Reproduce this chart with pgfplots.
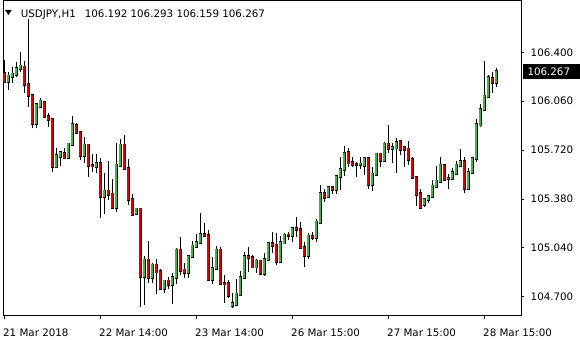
\documentclass[border=0pt]{standalone}
\usepackage{fontspec}
\setmainfont{DejaVu Sans}
\usepackage{pgfplots}
\usepackage{pgfplotstable}
\pgfplotsset{compat=1.18}
\definecolor{cgreen}{RGB}{60,185,60}
\definecolor{cred}{RGB}{228,0,0}
\newcommand{\lblfont}{\fontsize{10.3bp}{12bp}\selectfont}
\pgfplotstableread{
i o h l c
0 106.254 106.346 106.187 106.196
1 106.196 106.265 106.138 106.235
2 106.235 106.298 106.187 106.249
3 106.249 106.335 106.226 106.289
4 106.289 106.404 106.263 106.305
5 106.298 106.340 106.117 106.176
6 106.176 106.629 106.022 106.101
7 106.101 106.103 105.872 105.906
8 105.906 106.050 105.872 106.038
9 106.022 106.080 106.011 106.061
10 106.052 106.057 105.948 105.952
11 105.955 105.976 105.879 105.934
12 105.934 105.941 105.570 105.605
13 105.605 105.733 105.594 105.681
14 105.674 105.709 105.610 105.702
15 105.698 105.733 105.663 105.670
16 105.670 105.767 105.663 105.762
17 105.762 105.957 105.749 105.895
18 105.890 105.906 105.837 105.844
19 105.844 105.848 105.651 105.681
20 105.681 105.813 105.628 105.755
21 105.755 105.762 105.535 105.612
22 105.614 105.693 105.568 105.611
23 105.605 105.693 105.559 105.628
24 105.628 105.665 105.250 105.396
25 105.396 105.561 105.276 105.436
26 105.436 105.644 105.373 105.415
27 105.415 105.519 105.310 105.324
28 105.324 105.767 105.292 105.616
29 105.616 105.797 105.602 105.755
30 105.755 105.825 105.582 105.594
31 105.594 105.658 105.338 105.378
32 105.378 105.415 105.262 105.276
33 105.281 105.315 105.269 105.310
34 105.310 105.317 104.631 104.840
35 104.840 104.984 104.643 104.956
36 104.956 105.088 104.796 104.838
37 104.838 104.935 104.798 104.921
38 104.921 104.963 104.719 104.874
39 104.874 104.893 104.747 104.759
40 104.759 104.817 104.726 104.810
41 104.810 104.840 104.754 104.787
42 104.787 104.866 104.650 104.833
43 104.833 105.041 104.789 105.025
44 105.025 105.116 104.852 104.886
45 104.886 104.935 104.831 104.868
46 104.868 104.986 104.831 104.979
47 104.979 105.088 104.970 105.053
48 105.053 105.135 105.044 105.079
49 105.079 105.285 105.072 105.135
50 105.135 105.213 105.118 105.125
51 105.125 105.164 104.817 104.822
52 104.822 104.979 104.787 104.898
53 104.898 105.053 104.886 105.025
54 105.025 105.048 104.789 104.794
55 104.794 104.852 104.657 104.790
56 104.792 104.817 104.690 104.712
57 104.641 104.726 104.620 104.655
58 104.650 104.824 104.643 104.719
59 104.719 104.879 104.712 104.833
60 104.833 105.011 104.824 104.979
61 104.979 105.048 104.872 104.975
62 104.975 104.991 104.898 104.909
63 104.909 104.961 104.868 104.949
64 104.949 104.956 104.859 104.863
65 104.863 105.005 104.847 104.961
66 104.961 105.083 104.956 105.072
67 105.072 105.149 105.007 105.060
68 105.060 105.142 104.921 104.944
69 104.944 105.125 104.937 105.079
70 105.075 105.142 105.067 105.130
71 105.130 105.149 105.095 105.127
72 105.125 105.187 105.083 105.176
73 105.176 105.253 105.118 105.169
74 105.169 105.222 105.037 105.044
75 105.044 105.083 104.905 104.991
76 104.991 105.142 104.961 105.123
77 105.120 105.153 105.095 105.116
78 105.116 105.241 105.083 105.220
79 105.220 105.477 105.211 105.420
80 105.420 105.447 105.361 105.392
81 105.398 105.466 105.392 105.461
82 105.461 105.466 105.415 105.447
83 105.447 105.540 105.415 105.535
84 105.535 105.670 105.443 105.587
85 105.587 105.749 105.540 105.698
86 105.705 105.733 105.605 105.632
87 105.632 105.674 105.605 105.621
88 105.621 105.639 105.535 105.619
89 105.619 105.674 105.587 105.623
90 105.616 105.667 105.547 105.663
91 105.663 105.670 105.450 105.482
92 105.482 105.605 105.438 105.554
93 105.554 105.698 105.547 105.693
94 105.693 105.702 105.605 105.646
95 105.646 105.778 105.639 105.762
96 105.762 105.895 105.698 105.733
97 105.733 105.767 105.628 105.735
98 105.735 105.802 105.559 105.774
99 105.778 105.783 105.686 105.726
100 105.735 105.744 105.605 105.724
101 105.728 105.785 105.616 105.656
102 105.656 105.670 105.524 105.531
103 105.531 105.540 105.331 105.413
104 105.418 105.447 105.315 105.322
105 105.345 105.385 105.326 105.378
106 105.378 105.401 105.350 105.396
107 105.396 105.512 105.385 105.470
108 105.470 105.612 105.461 105.505
109 105.505 105.670 105.500 105.616
110 105.610 105.616 105.507 105.519
111 105.524 105.554 105.447 105.525
112 105.524 105.594 105.512 105.563
113 105.561 105.644 105.547 105.616
114 105.614 105.726 105.605 105.639
115 105.639 105.674 105.420 105.454
116 105.454 105.594 105.450 105.566
117 105.566 105.674 105.559 105.663
118 105.663 105.934 105.639 105.895
119 105.895 106.041 105.883 106.004
120 106.004 106.342 105.994 106.096
121 106.096 106.242 106.087 106.226
122 106.219 106.265 106.115 106.189
123 106.192 106.293 106.159 106.267
}\candles
\begin{document}
\begin{tikzpicture}
\useasboundingbox (-3bp,-24bp) rectangle (577bp,316bp);
\begin{axis}[
  at={(0,0)}, anchor=south west,
  scale only axis, width=518bp, height=315bp,
  xmin=-0.25, xmax=129.25,
  ymin=104.567, ymax=106.757,
  axis line style={black, line width=1bp},
  tick style={black, line width=1bp},
  major tick length=3bp,
  tick align=outside,
  xtick pos=left, ytick pos=right,
  yticklabel pos=right,
  xtick={0,24,48,72,96,120},
  xticklabels={21 Mar 2018, 22 Mar 14:00, 23 Mar 14:00, 26 Mar 15:00, 27 Mar 15:00, 28 Mar 15:00},
  ytick={104.7,105.04,105.38,105.72,106.06,106.4},
  yticklabels={104.700,105.040,105.380,105.720,106.060,106.400},
  tick label style={font=\lblfont, text=black},
  xticklabel style={anchor=north west, inner sep=0pt, yshift=-10bp, xshift=-1bp},
  yticklabel style={anchor=west, inner sep=0pt, xshift=6.5bp},
  extra y ticks={106.267},
  extra y tick labels={106.267},
  extra y tick style={major tick length=0pt, yticklabel style={fill=black, text=white, inner xsep=5bp, inner ysep=3.6bp, xshift=-5.2bp, text width=48bp}},
]
% wicks
\addplot[draw=none, mark=none, forget plot,
  error bars/.cd, y dir=plus, y explicit, error mark=none,
  error bar style={draw=black, solid, line width=1bp, line cap=butt}]
  table[x=i, y=l, y error plus expr={\thisrow{h}-\thisrow{l}}] {\candles};
% body outlines
\addplot[draw=none, mark=none, forget plot,
  error bars/.cd, y dir=plus, y explicit, error mark=none,
  error bar style={draw=black, solid, line width=3bp, line cap=rect}]
  table[x=i, y expr={min(\thisrow{o},\thisrow{c})}, y error plus expr={abs(\thisrow{c}-\thisrow{o})}] {\candles};
% green bodies (red candles are sent below the visible range, where they are clipped)
\addplot[draw=none, mark=none, forget plot,
  error bars/.cd, y dir=plus, y explicit, error mark=none,
  error bar style={draw=cgreen, solid, line width=1.4bp, line cap=rect}]
  table[x=i, y expr={\thisrow{c}>\thisrow{o} ? \thisrow{o} : 104.0},
        y error plus expr={\thisrow{c}>\thisrow{o} ? \thisrow{c}-\thisrow{o} : 0}] {\candles};
% red bodies
\addplot[draw=none, mark=none, forget plot,
  error bars/.cd, y dir=plus, y explicit, error mark=none,
  error bar style={draw=cred, solid, line width=1.4bp, line cap=rect}]
  table[x=i, y expr={\thisrow{c}<\thisrow{o} ? \thisrow{c} : 104.0},
        y error plus expr={\thisrow{c}<\thisrow{o} ? \thisrow{o}-\thisrow{c} : 0}] {\candles};
\end{axis}
\fill[black] (2bp,306bp) -- (8.7bp,306bp) -- (5.35bp,301bp) -- cycle;
\node[anchor=base west, inner sep=0pt, font=\lblfont] at (17.7bp,298.7bp) {USDJPY,H1\hspace{9bp}106.192 106.293 106.159 106.267};
\end{tikzpicture}
\end{document}
